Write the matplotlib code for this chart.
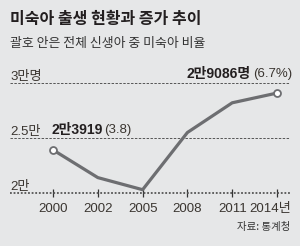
import matplotlib.pyplot as plt
from matplotlib.transforms import ScaledTranslation

# 미숙아 출생 현황 (명)
years = ['2000', '2002', '2005', '2008', '2011', '2014년']
births = [23919, 21400, 20300, 25500, 28200, 29086]
y_ticks = [20000, 25000, 30000]
y_labels = ['2만', '2.5만', '3만명']

bg = '#e6e7e8'
ink = '#231f20'
line_col = '#6d6e71'
num_font = ['Liberation Sans', 'Noto Sans CJK KR', 'DejaVu Sans']
kr = ['Noto Sans CJK KR', 'DejaVu Sans']

W, H = 300, 246
fig = plt.figure(figsize=(W / 100, H / 100), dpi=100, facecolor=bg)

def px(x, y):
    return x / W, 1 - y / H

# 축 영역: x 10~290px, y 83~193px
left, right, top, bottom = 10, 290, 83, 193
ax = fig.add_axes([left / W, 1 - bottom / H, (right - left) / W, (bottom - top) / H])
ax.set_facecolor(bg)
ax.set_xlim(-0.96, 5.29)
ax.set_ylim(20000, 30000)
for s in ax.spines.values():
    s.set_visible(False)

x = list(range(len(years)))
ax.axhline(30000, color='#555555', lw=0.7, ls=(0, (2.5, 1.5)), clip_on=False)
ax.axhline(25000, color='#555555', lw=0.7, ls=(0, (2.5, 1.5)), clip_on=False)
ax.axhline(20000, color='#555555', lw=1.3, ls=(0, (1, 1)), clip_on=False)

ax.plot(x, births, color=line_col, lw=2.3, clip_on=False, zorder=3)
ax.plot([x[0], x[-1]], [births[0], births[-1]], 'o', ms=5, mfc='white',
        mec=line_col, mew=1.3, clip_on=False, zorder=4)

ax.set_yticks([])
ax.set_xticks(x)
ax.set_xticklabels(years, fontsize=9.5, family=num_font, color='#3a3530')
ax.tick_params(axis='x', direction='inout', length=6, width=0.9,
               color='#333333', pad=4)
# 마지막 라벨은 오른쪽 끝에 맞춤
last = ax.get_xticklabels()[-1]
last.set_horizontalalignment('right')
last.set_transform(last.get_transform() + ScaledTranslation(0.14, 0, fig.dpi_scale_trans))

for v, lab in zip(y_ticks, y_labels):
    ax.text(-0.96, v, lab, fontsize=9.5, family=num_font, color='#3a3530',
            ha='left', va='bottom')

# 제목
fig.text(*px(10, 19), '미숙아 출생 현황과 증가 추이', fontsize=11.5,
         family=kr, weight='bold', color=ink, va='center', ha='left')
fig.text(*px(10, 44), '괄호 안은 전체 신생아 중 미숙아 비율', fontsize=9.3,
         family=kr, color='#333333', va='center', ha='left')

# 주석
fig.text(*px(103, 130), '2만3919', fontsize=10, family=num_font, weight='bold',
         color=ink, ha='right', va='center')
fig.text(*px(104, 130), '(3.8)', fontsize=9.5, family=num_font, color='#3a3530',
         ha='left', va='center')
fig.text(*px(251, 74), '2만9086명', fontsize=10, family=num_font, weight='bold',
         color=ink, ha='right', va='center')
fig.text(*px(253, 74), '(6.7%)', fontsize=9.5, family=num_font, color='#3a3530',
         ha='left', va='center')

fig.text(*px(290, 227), '자료: 통계청', fontsize=7.5, family=kr,
         color='#333333', ha='right', va='center')

fig.savefig('out.png', dpi=100, facecolor=bg)
